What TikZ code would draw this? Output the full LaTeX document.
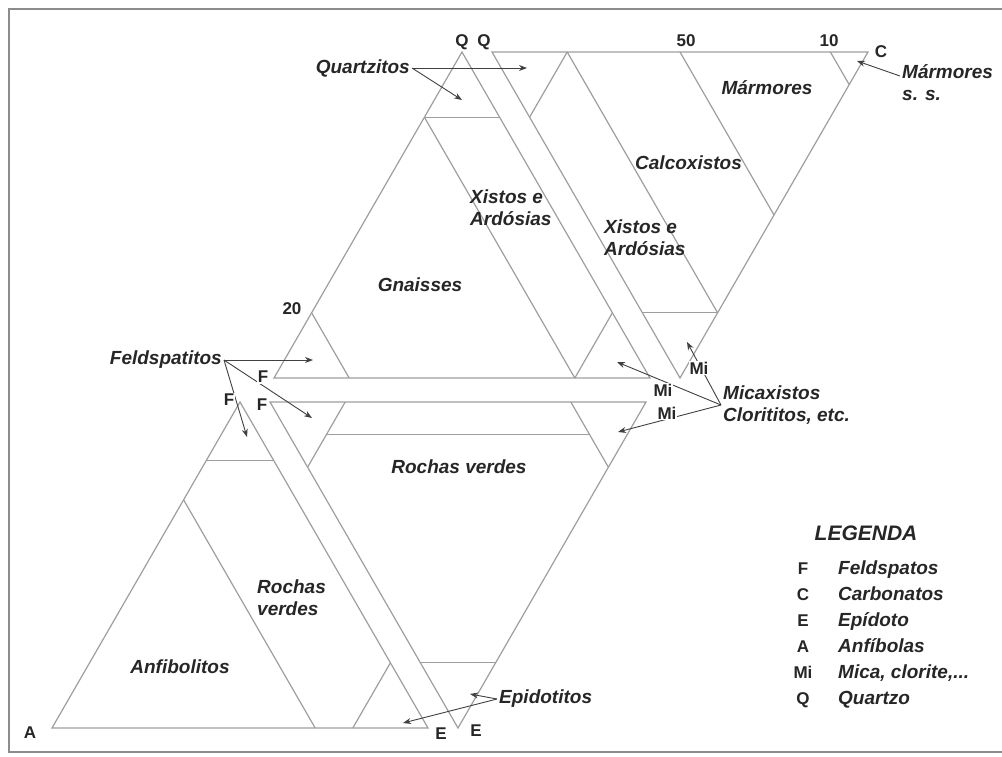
\documentclass[tikz,border=0pt]{standalone}
\usepackage{fontspec}
\setmainfont{Liberation Sans}
\usepackage{tikz}
\usetikzlibrary{arrows, arrows.meta, calc}

\begin{document}
\begin{tikzpicture}[x=1pt, y=-1pt,
    edge/.style={draw=black!38, line width=1.2pt},
    ptr/.style={-{Stealth[length=8pt, width=6pt]}, draw=black!75, line width=0.9pt},
    lbl/.style={font=\fontsize{19}{22}\selectfont\bfseries\itshape, text=black!85, inner sep=2pt, align=left},
    vtx/.style={font=\fontsize{17}{19}\selectfont\bfseries, text=black!85, inner sep=1pt, fill=white}]
    \useasboundingbox (0,0) rectangle (1002,756);

    % Draw scanned page frame
    \draw[black!45, line width=1.5pt] (1002,9) -- (9,9) -- (9,752) -- (1002,752);

    % Corners of the four triangles
    \coordinate (Q1) at (462,52);
    \coordinate (F1) at (274,378);
    \coordinate (Mi1) at (650,378);
    \coordinate (Q2) at (492,52);
    \coordinate (C) at (868,52);
    \coordinate (Mi2) at (680,378);
    \coordinate (F3) at (270,402);
    \coordinate (Mi3) at (646,402);
    \coordinate (E3) at (458,728);
    \coordinate (F4) at (240,402);
    \coordinate (A) at (52,728);
    \coordinate (E4) at (428,728);

    % Draw the four triangles
    \draw[edge] (Q1) -- (F1) -- (Mi1) -- cycle;
    \draw[edge] (Q2) -- (C) -- (Mi2) -- cycle;
    \draw[edge] (F3) -- (Mi3) -- (E3) -- cycle;
    \draw[edge] (F4) -- (A) -- (E4) -- cycle;

    % Q-F-Mi fields
    \draw[edge] ($(Q1)!0.2!(F1)$) -- ($(Q1)!0.2!(Mi1)$);
    \draw[edge] ($(Q1)!0.2!(F1)$) -- ($(Mi1)!0.2!(F1)$);
    \draw[edge] ($(F1)!0.2!(Q1)$) -- ($(F1)!0.2!(Mi1)$);
    \draw[edge] ($(Mi1)!0.2!(F1)$) -- ($(Mi1)!0.2!(Q1)$);

    % Q-C-Mi fields
    \draw[edge] ($(Q2)!0.2!(C)$) -- ($(Q2)!0.2!(Mi2)$);
    \draw[edge] ($(Q2)!0.2!(C)$) -- ($(Mi2)!0.2!(C)$);
    \draw[edge] ($(Q2)!0.5!(C)$) -- ($(Mi2)!0.5!(C)$);
    \draw[edge] ($(Q2)!0.9!(C)$) -- ($(Mi2)!0.9!(C)$);
    \draw[edge] ($(Mi2)!0.2!(Q2)$) -- ($(Mi2)!0.2!(C)$);

    % F-Mi-E fields
    \draw[edge] ($(F3)!0.2!(Mi3)$) -- ($(F3)!0.2!(E3)$);
    \draw[edge] ($(Mi3)!0.2!(F3)$) -- ($(Mi3)!0.2!(E3)$);
    \draw[edge] ($(E3)!0.2!(F3)$) -- ($(E3)!0.2!(Mi3)$);
    \draw[edge] ($0.8*(F3)+0.1*(Mi3)+0.1*(E3)$) -- ($0.1*(F3)+0.8*(Mi3)+0.1*(E3)$);

    % A-F-E fields
    \draw[edge] ($(F4)!0.18!(A)$) -- ($(F4)!0.18!(E4)$);
    \draw[edge] ($(A)!0.7!(F4)$) -- ($(A)!0.7!(E4)$);
    \draw[edge] ($(E4)!0.2!(A)$) -- ($(E4)!0.2!(F4)$);

    % Rock names
    \node[lbl, anchor=east] (quartz) at (412,68) {Quartzitos};
    \node[lbl, anchor=east] (feld) at (224,360) {Feldspatitos};
    \node[lbl] (gnai) at (420,285) {Gnaisses};
    \node[lbl, anchor=west] (xistA) at (468,208) {Xistos e\\Ardósias};
    \node[lbl, anchor=west] (xistB) at (602,238) {Xistos e\\Ardósias};
    \node[lbl, anchor=west] (calc) at (633,163) {Calcoxistos};
    \node[lbl] (marmA) at (767,88) {Mármores};
    \node[lbl, anchor=west] (marmB) at (900,83) {Mármores\\s. s.};
    \node[lbl, anchor=west] (mica) at (721,405) {Micaxistos\\Clorititos, etc.};
    \node[lbl] (rvA) at (459,467) {Rochas verdes};
    \node[lbl, anchor=west] (rvB) at (255,598) {Rochas\\verdes};
    \node[lbl] (anfi) at (180,667) {Anfibolitos};
    \node[lbl, anchor=west] (epid) at (497,699) {Epidotitos};

    % Arrow ends
    \coordinate (qzR) at (527,68);
    \coordinate (qzD) at (462,100);
    \coordinate (fsA) at (313,360);
    \coordinate (fsB) at (312,418);
    \coordinate (fsC) at (247,437);
    \coordinate (miA) at (687,342);
    \coordinate (miB) at (617,362);
    \coordinate (miC) at (618,432);
    \coordinate (epA) at (470,694);
    \coordinate (epB) at (403,723);
    \coordinate (msA) at (857,61);

    % Draw arrows from names to fields
    \draw[ptr] (quartz.east) -- (qzR);
    \draw[ptr] (quartz.east) -- (qzD);
    \draw[ptr] (feld.east) -- (fsA);
    \draw[ptr] (feld.east) -- (fsB);
    \draw[ptr] (feld.east) -- (fsC);
    \draw[ptr] (mica.west) -- (miA);
    \draw[ptr] (mica.west) -- (miB);
    \draw[ptr] (mica.west) -- (miC);
    \draw[ptr] (epid.west) -- (epA);
    \draw[ptr] (epid.west) -- (epB);
    \draw[ptr] ([yshift=7pt]marmB.west) -- (msA);

    % Corner letters and percentages
    \node[vtx] (lQa) at (462,42) {Q};
    \node[vtx] (lQb) at (484,42) {Q};
    \node[vtx] (l50) at (686,41) {50};
    \node[vtx] (l10) at (829,41) {10};
    \node[vtx] (lC) at (881,52) {C};
    \node[vtx] (l20) at (292,309) {20};
    \node[vtx] (lFa) at (263,377) {F};
    \node[vtx] (lFb) at (229,400) {F};
    \node[vtx] (lFc) at (262,405) {F};
    \node[vtx] (lMa) at (699,368) {Mi};
    \node[vtx] (lMb) at (663,390) {Mi};
    \node[vtx] (lMc) at (667,413) {Mi};
    \node[vtx] (lA) at (30,733) {A};
    \node[vtx] (lEa) at (441,734) {E};
    \node[vtx] (lEb) at (476,731) {E};

    % Draw legend
    \node[lbl, font=\fontsize{21}{24}\selectfont\bfseries\itshape] (leg) at (866,533) {LEGENDA};
    \foreach \sym/\txt [count=\i] in {F/Feldspatos, C/Carbonatos, E/Epídoto, A/Anfíbolas, Mi/{Mica, clorite,...}, Q/Quartzo} {
        \node[vtx, anchor=base] (legs\i) at (803, 548+26*\i) {\sym};
        \node[lbl, anchor=base west] (legt\i) at (836, 548+26*\i) {\txt};
    }
\end{tikzpicture}
\end{document}
